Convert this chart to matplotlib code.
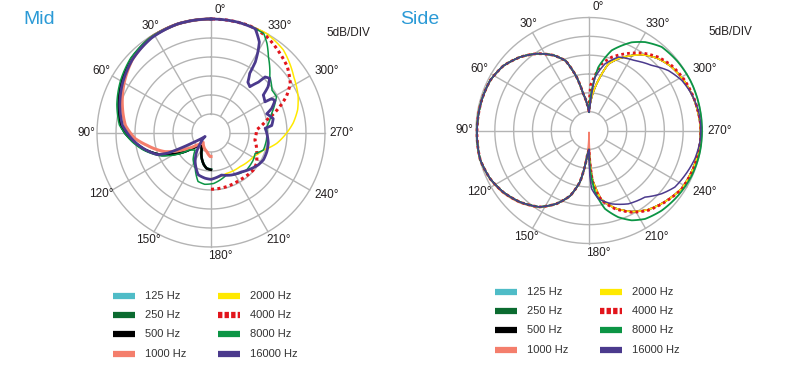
import numpy as np
import matplotlib.pyplot as plt
from matplotlib.lines import Line2D

plt.rcParams['font.family'] = ['Liberation Sans', 'DejaVu Sans']

freqs = ['125 Hz', '250 Hz', '500 Hz', '1000 Hz', '2000 Hz', '4000 Hz', '8000 Hz', '16000 Hz']
colors = ['#4fbcc7', '#0b6b30', '#000000', '#f47e6c', '#ffe900', '#e2151c', '#0c9545', '#4b3a8d']
angle_ticks = [0, 30, 60, 90, 120, 150, 180, 210, 240, 270, 300, 330]

# ---- Mid pattern (dB, 0 = outer ring, 5 dB per ring) ----
mid_low_ang = [0, 17, 32, 47, 60, 73, 85, 90, 96, 104, 114, 119, 124, 129, 134, 138, 145, 151, 160, 167, 173, 180]
mid_125_db = [0, 0, -0.3, -1.4, -2.9, -4.6, -6.2, -7.4, -9.4, -12.0, -15.8, -18.5, -20.8, -23.5, -25.3, -26.3, -25.8, -24.9, -22.9, -21.5, -20.6, -20.4]
mid_250_db = [0, 0, -0.3, -1.4, -2.9, -4.6, -6.2, -7.4, -9.4, -12.0, -15.8, -18.5, -20.8, -23.5, -25.3, -26.3, -25.8, -24.9, -22.9, -21.5, -20.6, -20.4]
mid_500_db = [0, 0, -0.3, -1.4, -2.9, -4.6, -6.2, -7.4, -9.4, -12.0, -15.8, -18.5, -20.8, -23.5, -25.3, -26.3, -25.8, -24.9, -22.9, -21.5, -20.6, -20.3]

mid_1000_ang = [0, 17, 32, 47, 60, 73, 85, 94, 101, 112, 120, 130, 140, 147, 157, 167, 178, 180]
mid_1000_db = [0, 0, -0.3, -1.7, -3.6, -5.6, -7.4, -9.9, -12.9, -16.9, -21.0, -25.0, -26.8, -26.3, -25.6, -25.0, -23.8, -23.8]

mid_2000_ang = [180, 183, 201, 221, 241, 252, 261, 270, 277, 285, 293, 304, 319, 331, 341, 360]
mid_2000_db = [-18, -18, -18.6, -18.3, -17.2, -15.5, -12.5, -10.1, -8.2, -6.4, -5.1, -3.7, -1.0, 0, 0, 0]

mid_4000_ang = [180, 196, 212, 229, 236, 246, 261, 274, 283, 291, 296, 302, 311, 319, 330, 340, 360]
mid_4000_db = [-15.2, -15.3, -15.5, -15.2, -15.6, -16.8, -18.3, -18.0, -15.0, -10.6, -7.9, -5.4, -3.4, -2.3, -0.7, 0, 0]

mid_8000_ang = [0, 17, 32, 47, 60, 73, 85, 96, 104, 114, 122, 128, 137, 146, 156, 165, 173, 183, 200, 216,
                224, 237, 245, 252, 263, 276, 288, 295, 299, 305, 314, 323, 328, 332, 340, 360]
mid_8000_db = [0, 0, -0.2, -1.1, -2.5, -4.1, -5.8, -9.0, -11.6, -15.3, -19.3, -22.8, -23.9, -21.6, -19.8, -16.8, -16.4, -16.7, -18.2, -16.9,
               -16.5, -16.8, -17.2, -15.5, -15.3, -15.3, -13.2, -11.4, -10.3, -10.4, -8.5, -4.9, -2.2, -0.4, 0, 0]

mid_16000_ang = [0, 17, 32, 47, 60, 73, 85, 96, 104, 112, 115, 116.5, 118, 121, 135, 142.5, 151, 163, 172.5, 180,
                 194, 206, 218, 229, 236, 243, 251.5, 260, 271, 275, 277, 283, 289, 292, 297, 299.5, 300, 306, 309, 313,
                 316, 317, 320, 324, 327, 328, 330, 332, 337, 346, 360]
mid_16000_db = [0, 0, -0.5, -1.7, -3.2, -4.9, -6.6, -9.6, -12.1, -14.8, -17.5, -21.0, -24.5, -28.2, -26.0, -23.8, -21.4, -18.5, -18.0, -17.8,
                -18.6, -17.7, -17.0, -15.8, -15.0, -14.5, -14.5, -14.7, -15.4, -15.7, -13.9, -13.2, -14.5, -12.8, -11.1, -11.7, -13.6, -13.0, -10.7, -8.9,
                -9.5, -11.7, -14.1, -13.5, -11.3, -8.0, -5.3, -2.9, -0.2, 0, 0]

# ---- Side pattern ----
side_left_ang = [0, 4, 9, 13, 18.5, 25, 34, 43, 53, 63, 74, 88, 105, 116, 126, 136, 147, 156, 164, 170, 173.5, 176, 180]
side_left_db = [-25, -23, -20.1, -15.5, -10.5, -8, -5.4, -3.3, -1.5, -0.6, -0.4, -0.3, -0.1, -0.8, -2, -3.6, -5.8, -8.7, -12, -16.1, -20.6, -23.5, -25]
side_1000_left_db = [-25, -23, -20.1, -15.5, -10.5, -8, -5.4, -3.3, -1.5, -0.6, -0.4, -0.3, -0.1, -0.7, -1.8, -3.4, -5.7, -8.7, -12, -16.1, -20.6, -23.5, -29.5]

side_2000_right_ang = [180, 184, 190, 198.4, 207.6, 216.6, 226.7, 237.8, 249.8, 262.3, 272, 285.8, 297.5, 308.2, 316.6, 324.9, 337.7, 343.8, 348.3, 354, 360]
side_2000_right_db = [-25, -17, -11.5, -8.3, -5.7, -3.8, -2.4, -1.0, -0.6, -0.4, -0.4, -0.9, -1.5, -2.4, -3.6, -5.4, -9.4, -11.6, -15.5, -20, -25]
side_1000_right_db = [-29.5, -17, -11.5, -8.3, -5.7, -3.8, -2.4, -1.0, -0.6, -0.4, -0.4, -0.9, -1.5, -2.4, -3.6, -5.4, -9.4, -11.6, -15.5, -20, -25]

side_4000_right_ang = [180, 184.5, 190.3, 198.4, 207.6, 216.6, 226.7, 237.8, 249.8, 262.3, 272, 285.8, 297.5, 308.2, 316.6, 324.9, 334.8, 342.8, 349.2, 354, 358, 360]
side_4000_right_db = [-25, -15.4, -11.1, -8.1, -5.5, -3.6, -2.3, -0.9, -0.5, -0.3, -0.3, -0.8, -1.3, -2.1, -3.2, -4.9, -7.5, -9.6, -12.0, -15.5, -18, -25]

side_8000_right_ang = [180, 181.5, 185.6, 191.5, 198.7, 205.4, 212.4, 222.2, 234, 246.3, 259, 270, 283.5, 296, 308, 319, 327.6, 334.2, 344.2, 351.6, 356.2, 360]
side_8000_right_db = [-25, -19.8, -13.5, -8.8, -5.7, -3.6, -2.2, -1.3, -0.7, -0.2, 0, 0, 0, 0, -0.2, -0.6, -2.2, -4.0, -7.9, -13.0, -19.4, -25]

side_16000_right_ang = [180, 181, 182.6, 187.8, 197.2, 208.2, 220, 229.1, 236.6, 244.9, 255, 264, 272, 280.4, 289.7, 298.4, 307.1, 316, 326.7, 338.2, 346.5, 353.6, 357.5, 360]
side_16000_right_db = [-25, -18, -14.5, -11.7, -9.6, -7.9, -6.9, -4.4, -2.7, -1.9, -0.9, -0.4, -0.3, -0.5, -1.1, -2.0, -3.6, -6.0, -7.8, -9.0, -11.8, -15.8, -23.8, -25]

W, H = 785, 367
fig = plt.figure(figsize=(W / 100, H / 100), dpi=100)


def polar_axes(cx, cy, r30):
    R = r30 * 31 / 30
    ax = fig.add_axes([(cx - R) / W, (H - cy - R) / H, 2 * R / W, 2 * R / H], projection='polar')
    ax.set_theta_zero_location('N')
    ax.set_theta_direction(1)
    ax.set_ylim(0, 31)
    ax.set_xticks([])
    ax.set_yticks([])
    ax.grid(False)
    ax.spines['polar'].set_visible(False)
    ax.patch.set_alpha(0)
    full = np.linspace(0, 2 * np.pi, 361)
    for r in [5, 10, 15, 20, 25, 30]:
        ax.plot(full, np.full_like(full, r), color='#b4b4b4', lw=1.0, zorder=0)
    shifts = {0: 9, 30: 1, 60: -3, 90: -2, 120: -3, 150: -1, 180: 9, 210: 6, 240: 9, 270: 8, 300: 9, 330: 7}
    lab_r = 123 / r30 * 30
    for a in angle_ticks:
        t = np.deg2rad(a)
        ax.plot([t, t], [5, 30], color='#b4b4b4', lw=1.0, zorder=0)
        ax.annotate(f'{a}°', xy=(t, lab_r), xytext=(shifts[a], 0), textcoords='offset pixels',
                    ha='center', va='center', fontsize=8.5, color='#231f20', annotation_clip=False)
    return ax


def curve(ax, ang, db, color, lw, ls='-'):
    line, = ax.plot(np.deg2rad(ang), np.array(db) + 30, color=color, lw=lw, linestyle=ls,
                    solid_joinstyle='round', zorder=2)
    # let the polar transform draw each segment as a spiral instead of a chord
    line.get_path()._interpolation_steps = 24


dotted = (0, (1, 1.1))

# Mid
ax1 = polar_axes(211, 133, 114)
curve(ax1, mid_low_ang, mid_125_db, colors[0], 1.8)
curve(ax1, mid_low_ang, mid_250_db, colors[1], 1.8)
curve(ax1, mid_low_ang, mid_500_db, colors[2], 1.8)
curve(ax1, mid_1000_ang, mid_1000_db, colors[3], 2.2)
curve(ax1, mid_2000_ang, mid_2000_db, colors[4], 1.1)
curve(ax1, mid_4000_ang, mid_4000_db, colors[5], 2.2, dotted)
curve(ax1, mid_8000_ang, mid_8000_db, colors[6], 1.1)
curve(ax1, mid_16000_ang, mid_16000_db, colors[7], 2.0)

# Side
ax2 = polar_axes(589, 130.5, 113)
curve(ax2, side_left_ang + side_2000_right_ang, side_left_db + side_2000_right_db, colors[0], 1.1)
curve(ax2, side_left_ang + side_2000_right_ang, side_left_db + side_2000_right_db, colors[1], 1.1)
curve(ax2, side_left_ang + side_2000_right_ang, side_left_db + side_2000_right_db, colors[2], 1.1)
curve(ax2, side_left_ang + side_2000_right_ang, side_1000_left_db + side_1000_right_db, colors[3], 1.2)
curve(ax2, side_left_ang + side_2000_right_ang, side_left_db + side_2000_right_db, colors[4], 1.1)
curve(ax2, side_left_ang + side_4000_right_ang, side_left_db + side_4000_right_db, colors[5], 2.0, dotted)
curve(ax2, side_left_ang + side_8000_right_ang, side_left_db + side_8000_right_db, colors[6], 1.3)
curve(ax2, side_left_ang + side_16000_right_ang, side_left_db + side_16000_right_db, colors[7], 1.1)

# titles and scale notes
title_col = '#2b9ad6'
fig.text(23 / W, 1 - 20 / H, 'Mid', fontsize=14, color=title_col, ha='left', va='center')
fig.text(400 / W, 1 - 20 / H, 'Side', fontsize=14, color=title_col, ha='left', va='center')
fig.text(348 / W, 1 - 33 / H, '5dB/DIV', fontsize=8.5, color='#231f20', ha='center', va='center')
fig.text(730 / W, 1 - 32 / H, '5dB/DIV', fontsize=8.5, color='#231f20', ha='center', va='center')


def legend(x_cols, y0):
    for i, (lab, col) in enumerate(zip(freqs, colors)):
        x0 = x_cols[i // 4]
        y = 1 - (y0 + (i % 4) * 19.2) / H
        ls = (0, (0.7, 0.35)) if lab == '4000 Hz' else '-'
        fig.add_artist(Line2D([x0 / W, (x0 + 22) / W], [y, y], transform=fig.transFigure,
                              color=col, lw=4.5, linestyle=ls, solid_capstyle='butt', dash_capstyle='butt'))
        fig.text((x0 + 32) / W, y, lab, fontsize=8, color='#333333', ha='left', va='center')


legend([113, 218], 296)
legend([495, 600], 292)

fig.savefig('out.png', dpi=100)
